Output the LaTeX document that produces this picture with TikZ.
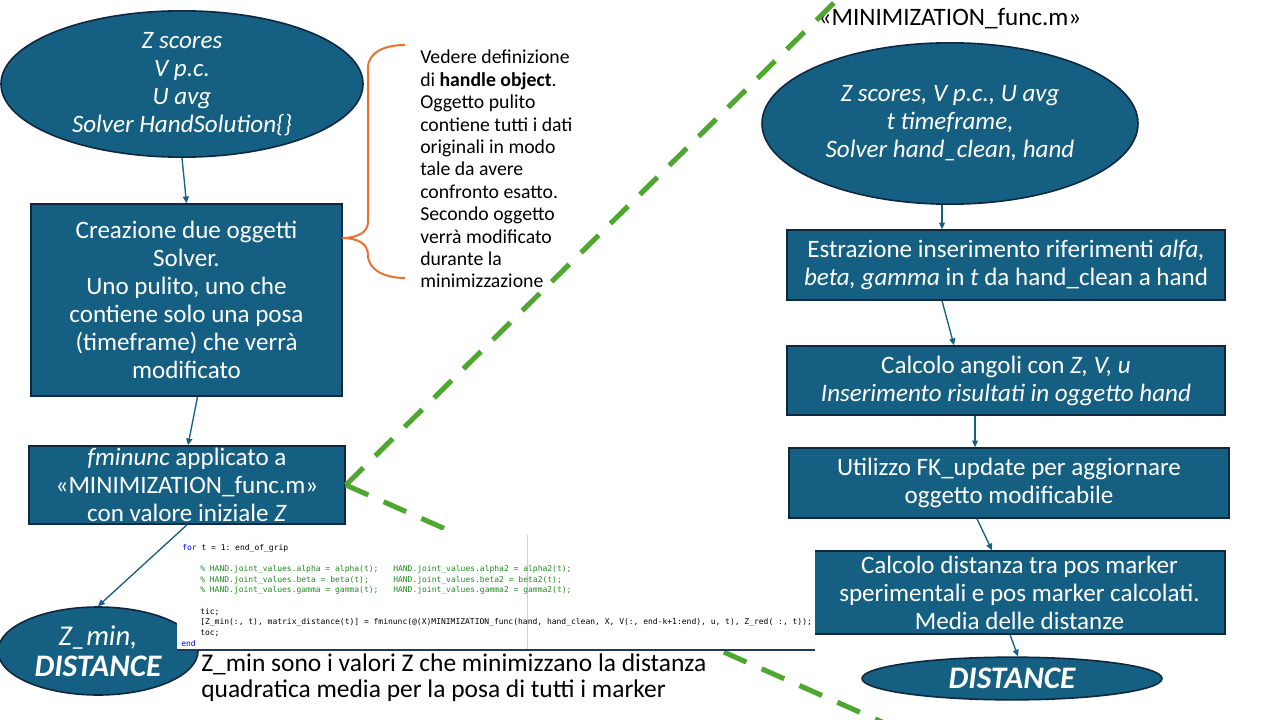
\documentclass[tikz,border=0pt]{standalone}
\usepackage{fontspec}
\setmainfont{Carlito}
\setmonofont{DejaVu Sans Mono}
\usetikzlibrary{arrows.meta,shapes.geometric,calc}

\definecolor{boxfill}{HTML}{156082}
\definecolor{boxline}{HTML}{0E2841}
\definecolor{bracecol}{HTML}{E97132}
\definecolor{dashgreen}{HTML}{4EA72E}
\definecolor{kwblue}{HTML}{0000FF}
\definecolor{cmtgreen}{HTML}{228B22}
\definecolor{rulegray}{HTML}{D0D0D0}
\definecolor{codeedge}{HTML}{1F3A5F}

\tikzset{
  flowbox/.style={rectangle, draw=boxline, line width=1.2pt, fill=boxfill,
    text=white, align=center, inner sep=0pt,
    font=\fontsize{18.8}{21}\selectfont},
  flowoval/.style={ellipse, draw=boxline, line width=1.2pt, fill=boxfill,
    text=white, align=center, inner sep=0pt,
    font=\fontsize{18.8}{21}\selectfont\itshape},
  flowarrow/.style={draw=boxfill, line width=1pt,
    -{Triangle[length=5pt,width=4.5pt]}},
  greendash/.style={draw=dashgreen, line width=3.8pt,
    dash pattern=on 18.5pt off 12.5pt},
  codeline/.style={anchor=west, inner sep=0pt,
    font=\fontsize{6}{7}\selectfont\ttfamily},
  plaintext/.style={inner sep=0pt, text=black}
}

\begin{document}
\begin{tikzpicture}[x=0.75pt, y=-0.75pt]
\useasboundingbox (0,0) rectangle (1280,720);
\clip (0,0) rectangle (1280,720);

% ---------- left column ----------
\node[flowoval, minimum width=271.5pt, minimum height=106.5pt] (inputs) at (182,84)
  {Z scores\\V p.c.\\U avg\\Solver HandSolution\{\}};

\node[flowbox, minimum width=233pt, minimum height=144pt] (create) at (186.5,300)
  {Creazione due oggetti\\Solver.\\Uno pulito, uno che\\contiene solo una posa\\(timeframe) che verrà\\modificato};

\node[flowbox, minimum width=237pt, minimum height=58.5pt] (fmin) at (187,485)
  {\textit{fminunc} applicato a\\«MINIMIZATION\_func.m»\\con valore iniziale \textit{Z}};

\node[flowoval, minimum width=150pt, minimum height=66pt,
      font=\fontsize{21.5}{23}\selectfont\itshape] (zmin) at (98,651)
  {Z\_min,\\\fontsize{23.5}{23}\selectfont\textbf{DISTANCE}};

% brace and note on the two Solver objects
\draw[bracecol, line width=1.5pt]
  (405,45) .. controls (385,45) and (368,52) .. (368,68)
  -- (368,222) .. controls (368,232) and (358,238) .. (342,238)
  .. controls (358,238) and (368,244) .. (368,255)
  .. controls (368,270) and (385,278) .. (405,278);

\node[plaintext, anchor=north west, align=left,
      font=\fontsize{14.8}{16.8}\selectfont] (note) at (420,50)
  {Vedere definizione\\di \textbf{handle object}.\\Oggetto pulito\\contiene tutti i dati\\originali in modo\\tale da avere\\confronto esatto.\\Secondo oggetto\\verrà modificato\\durante la\\minimizzazione};

% ---------- right column ----------
\node[plaintext, font=\fontsize{18.8}{21}\selectfont] (funclabel) at (950,19)
  {«MINIMIZATION\_func.m»};

\node[flowoval, minimum width=282pt, minimum height=121pt] (finputs) at (950,123.5)
  {Z scores, V p.c., U avg\\t timeframe,\\Solver hand\_clean, hand};

\node[flowbox, minimum width=328.5pt, minimum height=52.5pt] (extract) at (1006,265)
  {Estrazione inserimento riferimenti \textit{alfa,}\\\textit{beta, gamma} in \textit{t} da hand\_clean a hand};

\node[flowbox, minimum width=328.5pt, minimum height=51.75pt] (angles) at (1006,380.5)
  {Calcolo angoli con \textit{Z, V, u}\\\textit{Inserimento risultati in oggetto hand}};

\node[flowbox, minimum width=330pt, minimum height=52.5pt] (fkupd) at (1009,483)
  {Utilizzo FK\_update per aggiornare\\oggetto modificabile};

\node[flowbox, minimum width=308pt, minimum height=62pt] (dist) at (1019.5,592.5)
  {Calcolo distanza tra pos marker\\sperimentali e pos marker calcolati.\\Media delle distanze};

\node[flowoval, minimum width=225pt, minimum height=32pt,
      font=\fontsize{23.5}{24}\selectfont\bfseries\itshape] (distout) at (1012,678.5)
  {DISTANCE};

% ---------- green dashed pointer to the function ----------
\coordinate (gtop) at (852,-15);
\coordinate (gbot) at (882,722);
\draw[greendash] (fmin.east) -- (gtop);
\draw[greendash] (fmin.east) -- (gbot);

% ---------- code excerpt ----------
\fill[white] (177,530) rectangle (815,650);
\coordinate (guideT) at (527,535);
\coordinate (guideB) at (527,649);
\draw[rulegray, line width=0.6pt] (guideT) -- (guideB);
\coordinate (edgeL) at (177,650);
\coordinate (edgeR) at (815,650);
\draw[codeedge, line width=0.9pt] (edgeL) -- (edgeR);

\node[codeline] (c1) at (182,548) {\textcolor{kwblue}{for} t = 1: end\_of\_grip};
\node[codeline, text=cmtgreen] (c2) at (200,569.5) {\% HAND.joint\_values.alpha = alpha(t);};
\node[codeline, text=cmtgreen] (c3) at (200,580) {\% HAND.joint\_values.beta = beta(t);};
\node[codeline, text=cmtgreen] (c4) at (200,590.5) {\% HAND.joint\_values.gamma = gamma(t);};
\node[codeline, text=cmtgreen] (c2r) at (393,569.5) {HAND.joint\_values.alpha2 = alpha2(t);};
\node[codeline, text=cmtgreen] (c3r) at (393,580) {HAND.joint\_values.beta2 = beta2(t);};
\node[codeline, text=cmtgreen] (c4r) at (393,590.5) {HAND.joint\_values.gamma2 = gamma2(t);};
\node[codeline] (c5) at (200,612) {tic;};
\node[codeline] (c6) at (200,622.5) {[Z\_min(:, t), matrix\_distance(t)] = fminunc(@(X)MINIMIZATION\_func(hand, hand\_clean, X, V(:, end-k+1:end), u, t), Z\_red( :, t));};
\node[codeline] (c7) at (200,633) {toc;};
\node[codeline, text=kwblue] (c8) at (181,644) {end};

% caption under the code
\node[plaintext, anchor=north west, align=left,
      font=\fontsize{19.1}{19.5}\selectfont] (zcap) at (201,654)
  {Z\_min sono i valori Z che minimizzano la distanza\\quadratica media per la posa di tutti i marker};

% ---------- connectors ----------
\draw[flowarrow] (inputs.south) -- (create.north);
\draw[flowarrow] ($(create.south)+(11,0)$) -- ($(fmin.north)+(1,0)$);
\draw[flowarrow] (fmin.south) -- (zmin.north);

\draw[flowarrow] ($(finputs.south)+(-8,0)$) -- ($(extract.north)+(-64,0)$);
\draw[flowarrow] ($(extract.south)+(-64,0)$) -- ($(angles.north)+(-52,0)$);
\draw[flowarrow] ($(angles.south)+(-31,0)$) -- ($(fkupd.north)+(-34,0)$);
\draw[flowarrow] ($(fkupd.south)+(-32,0)$) -- ($(dist.north)+(-27.5,0)$);
\draw[flowarrow] ($(dist.south)+(-9.5,0)$) -- ($(distout.north)+(6,0)$);
\end{tikzpicture}
\end{document}
